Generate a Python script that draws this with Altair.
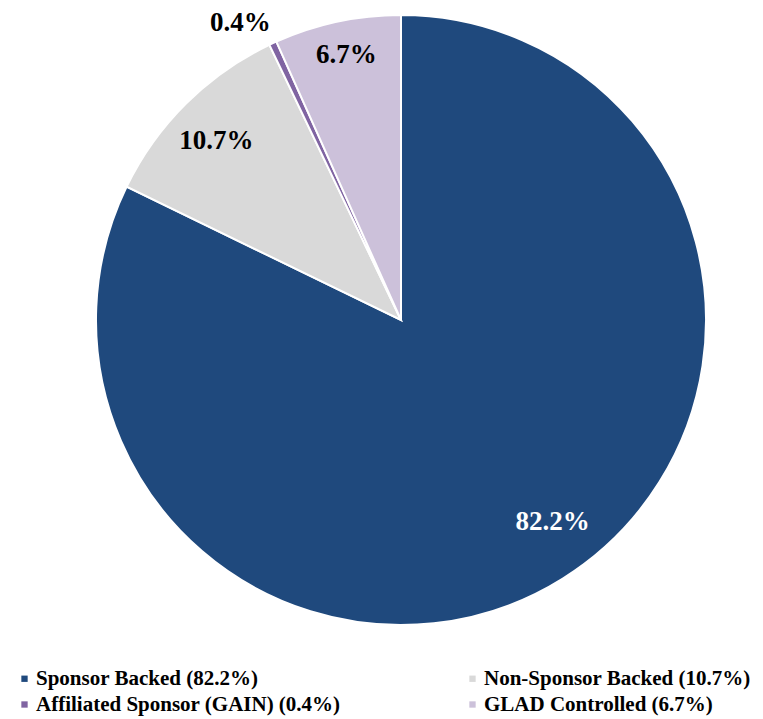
import altair as alt
import pandas as pd

categories = ["Sponsor Backed (82.2%)", "Non-Sponsor Backed (10.7%)",
              "Affiliated Sponsor (GAIN) (0.4%)", "GLAD Controlled (6.7%)"]
values = [82.2, 10.7, 0.4, 6.7]
labels = ["82.2%", "10.7%", "0.4%", "6.7%"]
colors = ["#1F497D", "#D9D9D9", "#8064A2", "#CCC1DA"]
order = [0, 1, 2, 3]

df = pd.DataFrame({"cat": categories, "value": values, "label": labels, "ord": order})

# legend is filled column by column, so list it so rows read like the reference
legend_order = [categories[0], categories[2], categories[1], categories[3]]
legend_colors = [colors[0], colors[2], colors[1], colors[3]]

FONT = "Liberation Serif"
CX, CY, R = 393, 312, 305

base = alt.Chart(df).transform_window(
    cum="sum(value)", sort=[alt.SortField("ord")]
).transform_calculate(mid="datum.cum - datum.value / 2")

theta_scale = alt.Scale(domain=[0, 100], range=[0, 6.283185307])

pie = alt.Chart(df).mark_arc(outerRadius=R, stroke="white", strokeWidth=2).encode(
    theta=alt.Theta("value:Q", stack=True),
    order=alt.Order("ord:Q"),
    color=alt.Color("cat:N", scale=alt.Scale(domain=legend_order, range=legend_colors),
                    sort=legend_order,
                    legend=alt.Legend(title=None, orient="none", legendX=6, legendY=660,
                                      columns=2, columnPadding=121, rowPadding=4,
                                      padding=0,
                                      symbolType="square", symbolSize=40,
                                      symbolStrokeWidth=0, labelFont=FONT,
                                      labelFontSize=21, labelFontWeight="bold",
                                      labelColor="#000000", labelLimit=400,
                                      symbolOffset=0, labelOffset=1)),
    x=alt.value(CX), y=alt.value(CY),
)

def txt(filt, radius, color, dx=0, dy=0):
    return base.transform_filter(filt).mark_text(
        radius=radius, font=FONT, fontSize=27, fontWeight="bold", color=color,
        align="center", baseline="middle", dx=dx, dy=dy
    ).encode(
        theta=alt.Theta("mid:Q", scale=theta_scale, stack=False),
        text="label:N",
        x=alt.value(CX), y=alt.value(CY),
    )

t_a = txt("datum.ord == 0", 250, "white", dx=19, dy=-10)
t_b = txt("datum.ord == 1", 262, "black", dy=7)
t_c = txt("datum.ord == 3", 262, "black", dy=-9)
t_d = txt("datum.ord == 2", 344, "black", dx=-16, dy=15)

chart = alt.layer(pie, t_a, t_b, t_c, t_d).properties(
    width=747, height=709, padding=0, autosize=alt.AutoSizeParams(type="none")
).configure_view(stroke=None).resolve_scale(theta="independent")

chart.save("out.html", embed_options={"renderer": "svg", "actions": False})
